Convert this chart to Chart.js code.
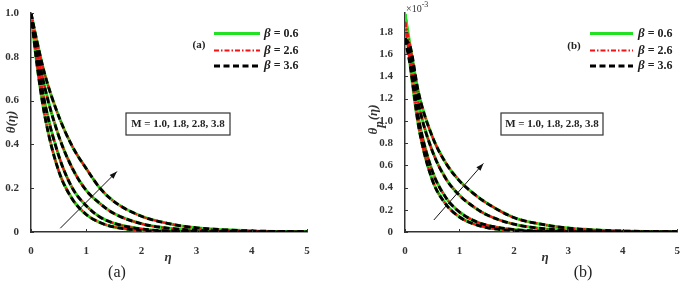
<!DOCTYPE html>
<html>
<head>
<meta charset="utf-8">
<script src="https://cdn.jsdelivr.net/npm/chart.js@4.4.0/dist/chart.umd.min.js"></script>
<style>
  html, body { margin: 0; padding: 0; background: #fff; }
  #wrap { position: relative; width: 685px; height: 281px; }
  canvas { position: absolute; top: 0; }
</style>
</head>
<body>
<div id="wrap">
  <canvas id="chartA" width="342" height="281" style="left:0"></canvas>
  <canvas id="chartB" width="343" height="281" style="left:342px"></canvas>
</div>
<script>
// eta grid
const eta = [0, 0.1, 0.25, 0.5, 0.75, 1, 1.25, 1.5, 2, 2.5, 3, 3.5, 4, 5];

// panel (a): theta(eta), one array per M (lowest curve = M 1.0)
const thetaM10 = [1, 0.78, 0.53, 0.28, 0.15, 0.08, 0.043, 0.023, 0.007, 0.002, 0.001, 0, 0, 0];
const thetaM18 = [1, 0.82, 0.59, 0.35, 0.20, 0.12, 0.068, 0.040, 0.014, 0.005, 0.002, 0.001, 0, 0];
const thetaM28 = [1, 0.85, 0.66, 0.44, 0.29, 0.19, 0.13, 0.085, 0.038, 0.017, 0.008, 0.004, 0.002, 0];
const thetaM38 = [1, 0.88, 0.72, 0.53, 0.39, 0.29, 0.20, 0.14, 0.072, 0.038, 0.019, 0.010, 0.005, 0.001];

// panel (b): theta_p(eta) x 1e-3, values after eta = 0 (start depends on beta)
const thetaPM10 = [1.48, 0.95, 0.47, 0.25, 0.135, 0.075, 0.040, 0.012, 0.004, 0.001, 0, 0, 0];
const thetaPM18 = [1.53, 1.02, 0.55, 0.31, 0.18, 0.105, 0.062, 0.022, 0.008, 0.003, 0.001, 0.001, 0];
const thetaPM28 = [1.60, 1.15, 0.73, 0.48, 0.33, 0.23, 0.155, 0.070, 0.032, 0.015, 0.007, 0.003, 0];
const thetaPM38 = [1.66, 1.25, 0.86, 0.62, 0.46, 0.35, 0.26, 0.13, 0.070, 0.035, 0.018, 0.009, 0.002];
const thetaPStart = [1.96, 1.89, 1.74]; // beta 0.6, 2.6, 3.6 at eta = 0

const betaValues = ['0.6', '2.6', '3.6'];
const mText = 'M = 1.0, 1.8, 2.8, 3.8';

// tick labels
const xTicks = [0, 1, 2, 3, 4, 5];
const yTicksA = [0, 0.2, 0.4, 0.6, 0.8, 1];
const yTicksB = [0, 0.2, 0.4, 0.6, 0.8, 1, 1.2, 1.4, 1.6, 1.8];

// arrow ends in data units [eta, value]
const arrowA = [[0.53, 0.017], [1.556, 0.276]];
const arrowB = [[0.53, 0.108], [1.44, 0.617]];

const serif = '"Liberation Serif", "Times New Roman", serif';

// line styles for beta = 0.6 / 2.6 / 3.6
const betaStyle = [
    { color: '#22e022', width: 3.0, dash: [], order: 3 },
    { color: '#f21212', width: 2.2, dash: [5, 2, 1.5, 2], order: 2 },
    { color: '#000000', width: 2.8, dash: [6, 3.5], order: 1 }
];

function buildDatasets(curves, startValues) {
    const sets = [];
    curves.forEach(function(curve) {
        betaStyle.forEach(function(st, j) {
            const vals = startValues ? [startValues[j]].concat(curve) : curve;
            sets.push({
                label: 'beta ' + betaValues[j],
                data: eta.map((e, k) => ({ x: e, y: vals[k] })),
                borderColor: st.color,
                borderWidth: st.width,
                borderDash: st.dash,
                pointRadius: 0,
                fill: false,
                cubicInterpolationMode: 'monotone',
                order: st.order
            });
        });
    });
    return sets;
}

const panelDecor = {
    id: 'panelDecor',
    afterDatasetsDraw(chart, args, o) {
        const { ctx, chartArea: ca } = chart;
        const xs = chart.scales.x, ys = chart.scales.y;
        ctx.save();

        // inward tick marks
        ctx.strokeStyle = '#333';
        ctx.lineWidth = 1;
        ctx.setLineDash([]);
        xs.ticks.forEach(t => {
            const px = Math.round(xs.getPixelForValue(t.value)) + 0.5;
            ctx.beginPath(); ctx.moveTo(px, ca.bottom); ctx.lineTo(px, ca.bottom - 3); ctx.stroke();
        });
        ys.ticks.forEach(t => {
            const py = Math.round(ys.getPixelForValue(t.value)) + 0.5;
            ctx.beginPath(); ctx.moveTo(ca.left, py); ctx.lineTo(ca.left + 3, py); ctx.stroke();
        });

        // legend
        ctx.textBaseline = 'middle';
        betaStyle.forEach((st, j) => {
            const yy = o.legend.rows[j];
            ctx.strokeStyle = st.color;
            ctx.lineWidth = st.width;
            ctx.setLineDash(st.dash);
            ctx.beginPath(); ctx.moveTo(o.legend.x0, yy); ctx.lineTo(o.legend.x1, yy); ctx.stroke();
            ctx.setLineDash([]);
            ctx.fillStyle = '#222';
            ctx.textAlign = 'left';
            ctx.font = 'italic bold 13px ' + serif;
            ctx.fillText('\u03b2', o.legend.tx, yy);
            const w = ctx.measureText('\u03b2').width;
            ctx.font = 'bold 12px ' + serif;
            ctx.fillText(' = ' + betaValues[j], o.legend.tx + w, yy);
        });

        // panel tag
        ctx.font = 'bold 11px ' + serif;
        ctx.textAlign = 'center';
        ctx.fillStyle = '#222';
        ctx.fillText(o.tag.text, o.tag.x, o.tag.y);

        // M box
        const b = o.box;
        ctx.fillStyle = '#fff';
        ctx.fillRect(b.x, b.y, b.w, b.h);
        ctx.strokeStyle = '#333';
        ctx.lineWidth = 1.2;
        ctx.strokeRect(b.x, b.y, b.w, b.h);
        ctx.fillStyle = '#222';
        ctx.font = 'bold 11px ' + serif;
        ctx.fillText(mText, b.x + b.w / 2, b.y + b.h / 2 + 0.5);

        // arrow
        const p0 = [xs.getPixelForValue(o.arrow[0][0]), ys.getPixelForValue(o.arrow[0][1])];
        const p1 = [xs.getPixelForValue(o.arrow[1][0]), ys.getPixelForValue(o.arrow[1][1])];
        const ang = Math.atan2(p1[1] - p0[1], p1[0] - p0[0]);
        ctx.strokeStyle = '#111';
        ctx.fillStyle = '#111';
        ctx.lineWidth = 1;
        ctx.beginPath(); ctx.moveTo(p0[0], p0[1]); ctx.lineTo(p1[0], p1[1]); ctx.stroke();
        ctx.beginPath();
        ctx.moveTo(p1[0], p1[1]);
        ctx.lineTo(p1[0] - 8 * Math.cos(ang - 0.35), p1[1] - 8 * Math.sin(ang - 0.35));
        ctx.lineTo(p1[0] - 8 * Math.cos(ang + 0.35), p1[1] - 8 * Math.sin(ang + 0.35));
        ctx.closePath(); ctx.fill();

        // x title
        ctx.font = 'italic bold 13px ' + serif;
        ctx.fillStyle = '#333';
        ctx.fillText('\u03b7', o.xTitle.x, o.xTitle.y);

        // caption
        ctx.font = '16px ' + serif;
        ctx.fillStyle = '#222';
        ctx.fillText(o.caption.text, o.caption.x, o.caption.y);

        // y title (rotated)
        ctx.save();
        ctx.translate(o.yTitle.x, o.yTitle.y);
        ctx.rotate(-Math.PI / 2);
        ctx.fillStyle = '#333';
        ctx.textAlign = 'left';
        ctx.font = 'italic bold 13px ' + serif;
        const parts = o.yTitle.sub
            ? [['\u03b8', 0], [o.yTitle.sub, 6], ['(\u03b7)', 0]]
            : [['\u03b8(\u03b7)', 0]];
        let total = 0;
        parts.forEach(pp => { total += ctx.measureText(pp[0]).width; });
        let cx = -total / 2;
        parts.forEach(pp => {
            ctx.fillText(pp[0], cx, pp[1]);
            cx += ctx.measureText(pp[0]).width + (pp[1] ? 1 : 0);
        });
        ctx.restore();

        // exponent label
        if (o.exponent) {
            ctx.textAlign = 'left';
            ctx.fillStyle = '#333';
            ctx.font = '10px ' + serif;
            ctx.fillText('\u00d710', o.exponent.x, o.exponent.y);
            const ew = ctx.measureText('\u00d710').width;
            ctx.font = '8px ' + serif;
            ctx.fillText('-3', o.exponent.x + ew, o.exponent.y - 4);
        }
        ctx.restore();
    }
};

function makeChart(id, datasets, yMax, yTicks, yWidth, pad, decor) {
    const tickFont = { family: serif, size: 11, weight: 'bold' };
    return new Chart(document.getElementById(id), {
        type: 'line',
        data: { datasets: datasets },
        options: {
            responsive: false,
            animation: false,
            devicePixelRatio: 1,
            layout: { padding: pad },
            plugins: { legend: { display: false }, tooltip: { enabled: false }, panelDecor: decor },
            scales: {
                x: {
                    type: 'linear', min: 0, max: 5,
                    afterBuildTicks: s => { s.ticks = xTicks.map(v => ({ value: v })); },
                    afterFit: s => { s.height = 49; },
                    grid: { display: false },
                    border: { display: true, color: '#333', width: 1.5 },
                    ticks: { color: '#333', font: tickFont, padding: 5, maxRotation: 0 }
                },
                y: {
                    type: 'linear', min: 0, max: yMax,
                    afterBuildTicks: s => { s.ticks = yTicks.map(v => ({ value: v })); },
                    afterFit: s => { s.width = yWidth; },
                    grid: { display: false },
                    border: { display: true, color: '#333', width: 1.5 },
                    ticks: { color: '#333', font: tickFont, padding: 4 }
                }
            }
        },
        plugins: [panelDecor]
    });
}

makeChart('chartA',
    buildDatasets([thetaM10, thetaM18, thetaM28, thetaM38], null),
    1, yTicksA, 31, { left: 0, right: 35, top: 13, bottom: 0 },
    {
        legend: { x0: 214, x1: 260, tx: 264, rows: [33.5, 50.5, 66] },
        tag: { text: '(a)', x: 199, y: 45.5 },
        box: { x: 126, y: 113, w: 104, h: 22 },
        arrow: arrowA,
        xTitle: { x: 168, y: 258 },
        caption: { text: '(a)', x: 117, y: 273 },
        yTitle: { x: 12, y: 122 }
    });

makeChart('chartB',
    buildDatasets([thetaPM10, thetaPM18, thetaPM28, thetaPM38], thetaPStart),
    1.97, yTicksB, 63, { left: 0, right: 3, top: 13, bottom: 0 },
    {
        legend: { x0: 248, x1: 291, tx: 296, rows: [33.5, 50.5, 66] },
        tag: { text: '(b)', x: 232, y: 46 },
        box: { x: 159, y: 113, w: 102, h: 22 },
        arrow: arrowB,
        xTitle: { x: 203, y: 258 },
        caption: { text: '(b)', x: 241, y: 273 },
        yTitle: { x: 32, y: 120, sub: 'p' },
        exponent: { x: 64, y: 9 }
    });
</script>
</body>
</html>
